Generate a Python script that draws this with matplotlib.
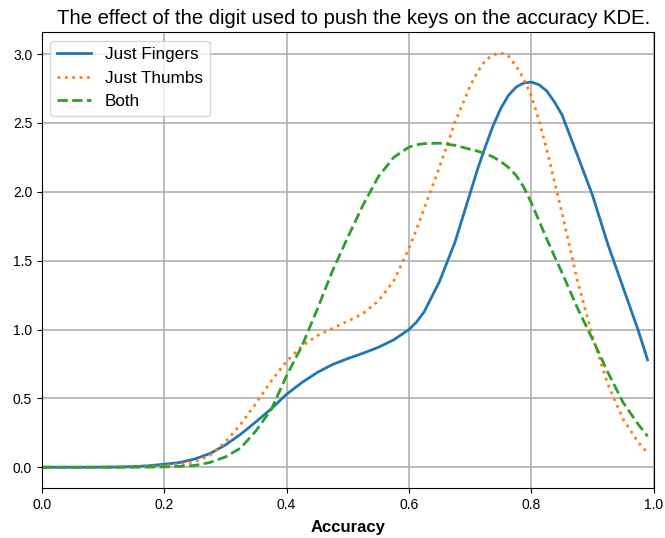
import matplotlib
matplotlib.use('Agg')
import matplotlib.pyplot as plt

plt.rcParams['font.family'] = ['Liberation Sans', 'DejaVu Sans']

# Accuracy values at which the KDE curves were evaluated
accuracy = [0.0, 0.025, 0.05, 0.075, 0.1, 0.125, 0.15, 0.175, 0.2, 0.225,
            0.25, 0.275, 0.3, 0.325, 0.35, 0.375, 0.4, 0.425, 0.45, 0.475,
            0.5, 0.525, 0.55, 0.575, 0.6, 0.6125, 0.625, 0.65, 0.675, 0.7,
            0.7125, 0.725, 0.7375, 0.75, 0.7625, 0.775, 0.7875, 0.8, 0.8125,
            0.825, 0.8375, 0.85, 0.875, 0.9, 0.925, 0.95, 0.975, 0.99]

# Density estimates per digit group
just_fingers = [0.0, 0.0, 0.0, 0.0, 0.001, 0.002, 0.005, 0.011, 0.022, 0.034,
                0.06, 0.10, 0.162, 0.24, 0.33, 0.425, 0.53, 0.615, 0.688, 0.746,
                0.789, 0.828, 0.871, 0.925, 1.0, 1.055, 1.13, 1.35, 1.632, 1.99,
                2.17, 2.33, 2.48, 2.605, 2.70, 2.76, 2.79, 2.797, 2.778,
                2.733, 2.655, 2.56, 2.27, 1.975, 1.62, 1.305, 0.99, 0.78]
just_thumbs = [0.0, 0.0, 0.0, 0.0, 0.0, 0.001, 0.003, 0.006, 0.012, 0.022,
               0.04, 0.087, 0.184, 0.312, 0.465, 0.627, 0.77, 0.88, 0.955, 1.009,
               1.06, 1.116, 1.208, 1.353, 1.59, 1.73, 1.881, 2.18, 2.503, 2.769,
               2.875, 2.955, 2.995, 3.01, 2.985, 2.915, 2.82, 2.697, 2.52,
               2.31, 2.08, 1.85, 1.36, 0.949, 0.603, 0.349, 0.179, 0.105]
both = [0.0, 0.0, 0.0, 0.0, 0.0, 0.0, 0.0, 0.001, 0.003, 0.006,
        0.013, 0.035, 0.075, 0.14, 0.265, 0.42, 0.665, 0.88, 1.146, 1.426,
        1.67, 1.905, 2.11, 2.25, 2.325, 2.342, 2.35, 2.353, 2.338, 2.309,
        2.295, 2.277, 2.253, 2.22, 2.178, 2.12, 2.035, 1.92, 1.79,
        1.66, 1.535, 1.414, 1.16, 0.93, 0.69, 0.47, 0.31, 0.225]

fig, ax = plt.subplots(figsize=(6.65, 5.38), dpi=100)
fig.subplots_adjust(left=0.063, right=0.983, top=0.9405, bottom=0.093)

ax.plot(accuracy, just_fingers, linestyle='-', linewidth=2, label='Just Fingers')
ax.plot(accuracy, just_thumbs, linestyle=':', linewidth=2, label='Just Thumbs')
ax.plot(accuracy, both, linestyle='--', linewidth=2, label='Both')

ax.set_xlim(0, 1)
ax.set_title('The effect of the digit used to push the keys on the accuracy KDE.',
             fontsize=14.6, x=0.51)
ax.set_xlabel('Accuracy', fontsize=12, fontweight='bold', labelpad=6)
ax.grid(True, color='#b0b0b0', linewidth=1.2)
ax.set_axisbelow(True)
ax.legend(loc='upper left', fontsize=12.3)

plt.savefig('out.png', dpi=100)
